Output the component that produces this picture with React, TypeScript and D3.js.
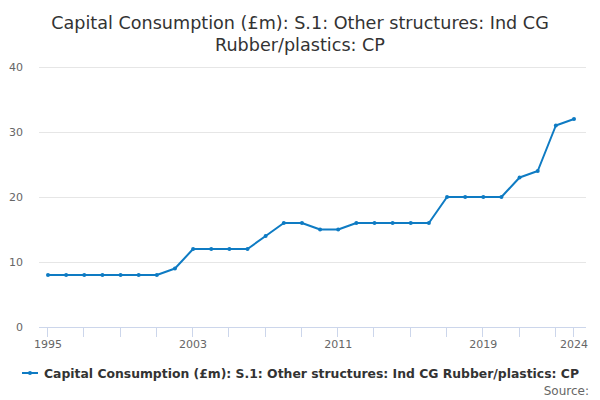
import React, { useEffect, useRef } from 'react';
import * as d3 from 'd3';

const years: number[] = d3.range(1995, 2025);
const values: number[] = [
  8, 8, 8, 8, 8, 8, 8, 9, 12, 12,
  12, 12, 14, 16, 16, 15, 15, 16, 16, 16,
  16, 16, 20, 20, 20, 20, 23, 24, 31, 32,
];
const yTicks: number[] = [0, 10, 20, 30, 40];
const xLabels: number[] = [1995, 2003, 2011, 2019, 2024];
const xTickMarks: number[] = [...d3.range(1995, 2024, 2), 2024];

const titleLines = ['Capital Consumption (£m): S.1: Other structures: Ind CG', 'Rubber/plastics: CP'];
const seriesName = 'Capital Consumption (£m): S.1: Other structures: Ind CG Rubber/plastics: CP';

const color = '#0e7bc3';
const font = '"DejaVu Sans", sans-serif';

const App: React.FC = () => {
  const ref = useRef<SVGSVGElement | null>(null);

  useEffect(() => {
    if (!ref.current) return;
    const svg = d3.select(ref.current);
    svg.selectAll('*').remove();

    const plotLeft = 39;
    const plotRight = 586;

    const x = d3.scaleLinear().domain([1995, 2024]).range([48, 574]);
    const y = d3.scaleLinear().domain([0, 40]).range([327, 67]);

    // Title
    svg
      .append('text')
      .attr('x', 300)
      .attr('y', 29)
      .attr('text-anchor', 'middle')
      .attr('font-family', font)
      .attr('font-size', 17.6)
      .attr('fill', '#333333')
      .selectAll('tspan')
      .data(titleLines)
      .enter()
      .append('tspan')
      .attr('x', 300)
      .attr('dy', (_d, i) => (i === 0 ? 0 : 22))
      .text((d) => d);

    // Gridlines + y labels
    svg
      .append('g')
      .selectAll('line')
      .data(yTicks.filter((t) => t > 0))
      .enter()
      .append('line')
      .attr('x1', plotLeft)
      .attr('x2', plotRight)
      .attr('y1', (d) => y(d) + 0.5)
      .attr('y2', (d) => y(d) + 0.5)
      .attr('stroke', '#e6e6e6');

    svg
      .append('g')
      .selectAll('text')
      .data(yTicks)
      .enter()
      .append('text')
      .attr('x', 23)
      .attr('y', (d) => y(d) + 4)
      .attr('text-anchor', 'end')
      .attr('font-family', font)
      .attr('font-size', 11)
      .attr('fill', '#666666')
      .text((d) => d);

    // X axis
    const xAxis = svg.append('g');
    xAxis
      .append('line')
      .attr('x1', plotLeft)
      .attr('x2', plotRight)
      .attr('y1', y(0) + 0.5)
      .attr('y2', y(0) + 0.5)
      .attr('stroke', '#ccd6eb');
    xAxis
      .selectAll('.tick')
      .data(xTickMarks)
      .enter()
      .append('line')
      .attr('x1', (d) => Math.round(x(d)) - 0.5)
      .attr('x2', (d) => Math.round(x(d)) - 0.5)
      .attr('y1', y(0))
      .attr('y2', y(0) + 10)
      .attr('stroke', '#ccd6eb');
    xAxis
      .selectAll('text')
      .data(xLabels)
      .enter()
      .append('text')
      .attr('x', (d) => x(d))
      .attr('y', y(0) + 21)
      .attr('text-anchor', 'middle')
      .attr('font-family', font)
      .attr('font-size', 11)
      .attr('fill', '#666666')
      .text((d) => d);

    // Line
    const line = d3
      .line<number>()
      .x((_d, i) => x(years[i]))
      .y((d) => y(d));

    svg
      .append('path')
      .datum(values)
      .attr('d', line)
      .attr('fill', 'none')
      .attr('stroke', color)
      .attr('stroke-width', 2)
      .attr('stroke-linejoin', 'round');

    svg
      .append('g')
      .selectAll('circle')
      .data(values)
      .enter()
      .append('circle')
      .attr('cx', (_d, i) => x(years[i]))
      .attr('cy', (d) => y(d))
      .attr('r', 2)
      .attr('fill', color);

    // Legend
    const legend = svg.append('g');
    legend
      .append('line')
      .attr('x1', 22)
      .attr('x2', 38)
      .attr('y1', 373)
      .attr('y2', 373)
      .attr('stroke', color)
      .attr('stroke-width', 2);
    legend.append('circle').attr('cx', 30).attr('cy', 373).attr('r', 2).attr('fill', color);
    legend
      .append('text')
      .attr('x', 44)
      .attr('y', 377.5)
      .attr('font-family', font)
      .attr('font-size', 12)
      .attr('font-weight', 'bold')
      .attr('fill', '#333333')
      .attr('textLength', 535)
      .attr('lengthAdjust', 'spacingAndGlyphs')
      .text(seriesName);

    // Source
    svg
      .append('text')
      .attr('x', 589)
      .attr('y', 395)
      .attr('text-anchor', 'end')
      .attr('font-family', font)
      .attr('font-size', 12)
      .attr('fill', '#666666')
      .text('Source:');
  }, []);

  return (
    <svg
      ref={ref}
      width={600}
      height={400}
      style={{ position: 'absolute', left: 0, top: 0, background: '#ffffff' }}
    />
  );
};

export default App;
